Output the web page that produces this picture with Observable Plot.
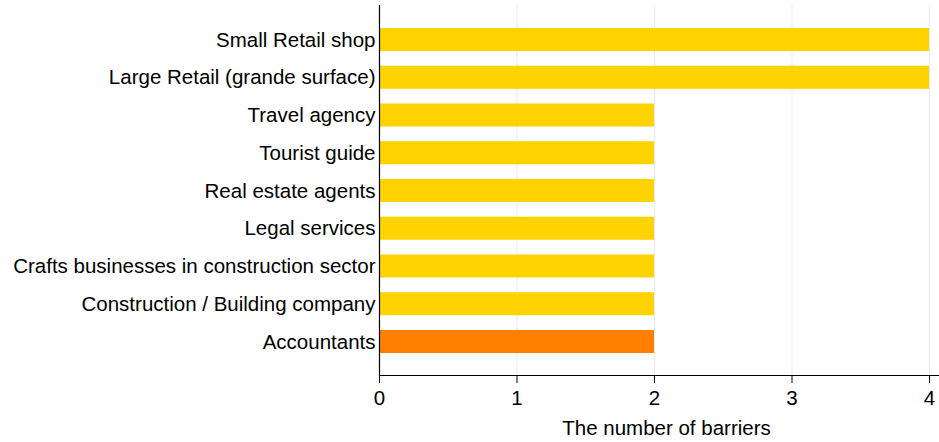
<!DOCTYPE html>
<html>
<head>
<meta charset="utf-8">
<script src="https://cdn.jsdelivr.net/npm/d3@7"></script>
<script src="https://cdn.jsdelivr.net/npm/@observablehq/plot@0.6"></script>
<style>
  html, body { margin: 0; padding: 0; background: #fff; }
  svg { display: block; }
  #chart svg text { font-size: 20.5px; }
</style>
</head>
<body>
<div id="chart"></div>
<script>
const categories = [
  "Small Retail shop",
  "Large Retail (grande surface)",
  "Travel agency",
  "Tourist guide",
  "Real estate agents",
  "Legal services",
  "Crafts businesses in construction sector",
  "Construction / Building company",
  "Accountants"
];
const barriers = [4, 4, 2, 2, 2, 2, 2, 2, 2];
const highlight = ["no", "no", "no", "no", "no", "no", "no", "no", "yes"];
const xTicks = [0, 1, 2, 3, 4];
const gridTicks = [1, 2, 3, 4];
const xTitle = "The number of barriers";

const data = categories.map((c, i) => ({ category: c, value: barriers[i], hl: highlight[i] }));

const chart = Plot.plot({
  width: 939,
  height: 442,
  marginTop: 5,
  marginBottom: 67,
  marginLeft: 379,
  marginRight: 0,
  style: { fontFamily: "'Liberation Sans', Arial, sans-serif", fontSize: "20.5px", color: "#000", background: "#fff" },
  x: { domain: [0, 4], insetRight: 10 },
  y: { domain: categories, paddingInner: 0.39, paddingOuter: 0, insetTop: 23, insetBottom: 22, round: false },
  color: { domain: ["no", "yes"], range: ["#FFD300", "#FF8000"] },
  marks: [
    Plot.ruleX(gridTicks, { stroke: "#e4ebef", strokeWidth: 1 }),
    Plot.barX(data, { x: "value", y: "category", fill: "hl" }),
    Plot.ruleX([0], { stroke: "#000", strokeWidth: 1.2 }),
    Plot.frame({ anchor: "bottom", stroke: "#000", strokeWidth: 1.2 }),
    Plot.axisY({ tickSize: 0, tickPadding: 4, label: null, fill: "#000" }),
    Plot.axisX({ ticks: xTicks, tickFormat: d3.format("d"), tickSize: 8, tickPadding: 7, fill: "#000", stroke: "#000", label: null }),
    Plot.text([xTitle], { text: d => d, frameAnchor: "bottom", lineAnchor: "middle", dy: 53, dx: 7, fill: "#000" })
  ]
});
document.getElementById("chart").appendChild(chart);
</script>
</body>
</html>
